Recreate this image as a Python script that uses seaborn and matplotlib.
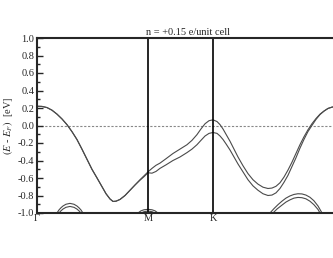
import pandas as pd
import matplotlib
matplotlib.use("Agg")
import matplotlib.pyplot as plt
import seaborn as sns

# high-symmetry points (path length, Gamma-M = 1)
sym_pos = [0.0, 1.0, 1.586, 2.73]
sym_labels = ['Γ', 'M', 'K', '']

# conduction bands
k_gm = [0.0, 0.045, 0.09, 0.135, 0.18, 0.225, 0.27, 0.315, 0.36, 0.405, 0.45, 0.495, 0.541,
        0.586, 0.622, 0.658, 0.685, 0.712, 0.748, 0.793, 0.838, 0.883, 0.928, 0.964, 1.0]
e_gm_a = [0.22, 0.218, 0.205, 0.175, 0.13, 0.075, 0.01, -0.07, -0.16, -0.27, -0.385, -0.50, -0.60,
          -0.70, -0.78, -0.84, -0.868, -0.865, -0.845, -0.80, -0.74, -0.68, -0.62, -0.575, -0.53]
e_gm_b = [0.22, 0.218, 0.205, 0.175, 0.13, 0.075, 0.01, -0.07, -0.16, -0.27, -0.385, -0.50, -0.60,
          -0.70, -0.78, -0.84, -0.868, -0.865, -0.845, -0.80, -0.74, -0.68, -0.625, -0.585, -0.54]

k_mk = [1.036, 1.072, 1.108, 1.162, 1.225, 1.288, 1.351, 1.396, 1.441, 1.477, 1.514, 1.55, 1.586]
e_mk_a = [-0.49, -0.455, -0.43, -0.38, -0.32, -0.27, -0.22, -0.17, -0.105, -0.04, 0.02, 0.055, 0.065]
e_mk_b = [-0.545, -0.525, -0.49, -0.45, -0.40, -0.36, -0.31, -0.27, -0.22, -0.17, -0.12, -0.09, -0.08]

k_kg = [1.622, 1.649, 1.676, 1.703, 1.739, 1.775, 1.811, 1.856, 1.901, 1.946, 1.991, 2.036, 2.081,
        2.117, 2.153, 2.189, 2.225, 2.261, 2.297, 2.333, 2.369, 2.405, 2.441, 2.477, 2.514, 2.55,
        2.586, 2.622, 2.658, 2.694, 2.73]
e_kg_a = [0.045, 0.01, -0.04, -0.10, -0.18, -0.27, -0.36, -0.46, -0.55, -0.62, -0.67, -0.705, -0.72,
          -0.715, -0.695, -0.655, -0.59, -0.51, -0.42, -0.32, -0.22, -0.13, -0.05, 0.02, 0.08, 0.13,
          0.165, 0.195, 0.21, 0.218, 0.22]
e_kg_b = [-0.09, -0.12, -0.16, -0.21, -0.28, -0.36, -0.44, -0.53, -0.62, -0.69, -0.74, -0.78, -0.80,
          -0.795, -0.77, -0.72, -0.65, -0.57, -0.47, -0.37, -0.26, -0.16, -0.07, 0.0, 0.07, 0.125,
          0.165, 0.195, 0.21, 0.218, 0.22]

# valence band tops poking above -1 eV
k_v1 = [0.18, 0.198, 0.216, 0.234, 0.261, 0.297, 0.333, 0.36, 0.378, 0.396, 0.414]
e_v1 = [-1.0, -0.965, -0.94, -0.92, -0.90, -0.89, -0.90, -0.92, -0.94, -0.965, -1.0]
k_v2 = [0.198, 0.216, 0.234, 0.261, 0.297, 0.333, 0.36, 0.378, 0.396]
e_v2 = [-1.0, -0.975, -0.955, -0.935, -0.925, -0.935, -0.955, -0.975, -1.0]
k_v3 = [0.91, 0.937, 0.964, 1.0, 1.036, 1.063, 1.09]
e_v3 = [-1.0, -0.975, -0.963, -0.958, -0.963, -0.975, -1.0]
k_v4 = [0.937, 0.964, 1.0, 1.036, 1.063]
e_v4 = [-1.0, -0.985, -0.978, -0.985, -1.0]
k_v5 = [2.099, 2.135, 2.171, 2.207, 2.243, 2.279, 2.315, 2.351, 2.387, 2.423, 2.459, 2.495, 2.532, 2.568]
e_v5 = [-1.0, -0.95, -0.905, -0.865, -0.83, -0.805, -0.788, -0.78, -0.782, -0.795, -0.82, -0.86, -0.92, -1.0]
k_v6 = [2.126, 2.162, 2.207, 2.243, 2.279, 2.315, 2.351, 2.387, 2.423, 2.459, 2.495, 2.532, 2.55]
e_v6 = [-1.0, -0.955, -0.91, -0.875, -0.85, -0.83, -0.822, -0.825, -0.838, -0.865, -0.905, -0.96, -1.0]

bands = {
    'c1': (k_gm + k_mk + k_kg, e_gm_a + e_mk_a + e_kg_a),
    'c2': (k_gm + k_mk + k_kg, e_gm_b + e_mk_b + e_kg_b),
    'v1': (k_v1, e_v1), 'v2': (k_v2, e_v2), 'v3': (k_v3, e_v3),
    'v4': (k_v4, e_v4), 'v5': (k_v5, e_v5), 'v6': (k_v6, e_v6),
}
rows = []
for name, (ks, es) in bands.items():
    for k, e in zip(ks, es):
        rows.append({'band': name, 'k': k, 'E': e})
df = pd.DataFrame(rows)

sns.set_style("ticks")
plt.rcParams['font.family'] = ['Liberation Serif', 'DejaVu Serif']
plt.rcParams['mathtext.fontset'] = 'stix'

fig = plt.figure(figsize=(3.33, 2.58), dpi=100)
ax = fig.add_axes([37 / 333, 45 / 258, 303 / 333, 175 / 258])

sns.lineplot(data=df, x='k', y='E', units='band', estimator=None, sort=False,
             color='#4a4a4a', lw=0.8, ax=ax, legend=False)

ax.axhline(0, color='#888888', lw=0.8, ls=(0, (2, 1.5)), zorder=0)
for p in sym_pos[1:3]:
    ax.axvline(p, color='black', lw=1.2)

ax.set_xlim(sym_pos[0], sym_pos[-1])
ax.set_ylim(-1.0, 1.0)
ax.set_xticks(sym_pos)
ax.set_xticklabels(sym_labels)
ax.set_yticks([-1.0, -0.8, -0.6, -0.4, -0.2, 0.0, 0.2, 0.4, 0.6, 0.8, 1.0])
ax.set_yticklabels(['-1.0', '-0.8', '-0.6', '-0.4', '-0.2', '0.0', '0.2', '0.4', '0.6', '0.8', '1.0'])
ax.set_yticks([v / 10 for v in range(-9, 10, 2)], minor=True)
ax.tick_params(axis='y', which='major', direction='in', length=4, width=1, labelsize=7.5, pad=2)
ax.tick_params(axis='y', which='minor', direction='in', length=2.5, width=1)
ax.tick_params(axis='x', length=0, labelsize=7.5, pad=1)

for s in ax.spines.values():
    s.set_linewidth(1.5)

ax.set_xlabel('')
ax.set_ylabel(r'$(E$ - $E_F)$  [eV]', fontsize=7.5, labelpad=2)
ax.set_title('n = +0.15 e/unit cell', fontsize=7.5, pad=2)

fig.savefig('out.png', dpi=100)
